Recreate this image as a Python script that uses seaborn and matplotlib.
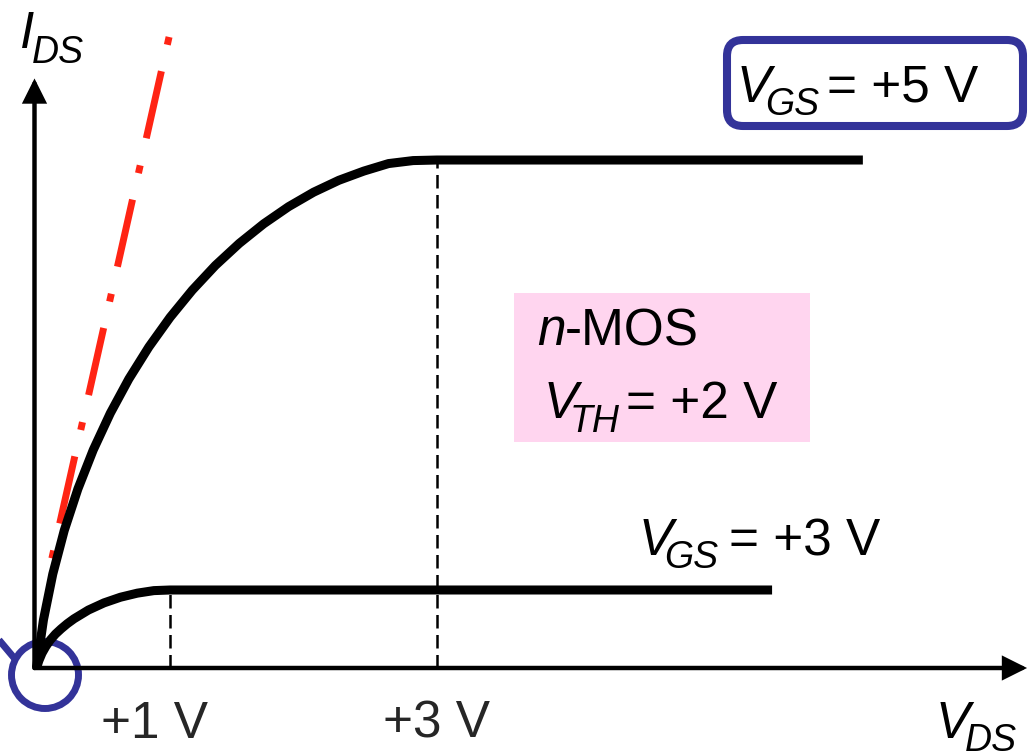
import numpy as np
import pandas as pd
import seaborn as sns
import matplotlib
matplotlib.use("Agg")
import matplotlib.pyplot as plt
from matplotlib.patches import Circle, FancyBboxPatch, FancyArrowPatch

# Drain characteristics of an n-MOS transistor (V_TH = +2 V), arbitrary current units
vds_gs5 = [0.0, 0.052, 0.122, 0.208, 0.310, 0.425, 0.553, 0.692, 0.842, 1.001, 1.167,
           1.340, 1.519, 1.702, 1.888, 2.076, 2.265, 2.452, 2.637, 2.821, 3.0, 6.19]
ids_gs5 = [0.0, 0.852, 1.665, 2.438, 3.172, 3.863, 4.514, 5.122, 5.689, 6.214, 6.694,
           7.132, 7.523, 7.870, 8.173, 8.430, 8.641, 8.804, 8.937, 8.990, 9.0, 9.0]

vds_gs3 = [0.0, 0.018, 0.041, 0.070, 0.103, 0.142, 0.184, 0.231, 0.281, 0.389, 0.506,
           0.629, 0.755, 0.879, 1.0, 5.51]
ids_gs3 = [0.0, 0.131, 0.261, 0.382, 0.495, 0.601, 0.693, 0.786, 0.872, 1.027, 1.154,
           1.254, 1.326, 1.371, 1.382, 1.382]

# saturation onset (V_DS,sat = V_GS - V_TH) for each curve
vds_sat = [1.0, 3.0]
ids_sat = [1.382, 9.0]

# steep reference line near the origin
ref_vds = [0.993, 0.104]
ref_ids = [11.18, 1.825]

tick_labels = ["+1 V", "+3 V"]

BLUE = "#333399"
RED = "#FF2414"
PINK = "#FFD5EF"

sns.set_theme(style="white")
plt.rcParams["font.family"] = ["Liberation Sans", "DejaVu Sans"]

W, H = 1028, 754
fig = plt.figure(figsize=(W / 100, H / 100), dpi=100)
ax = fig.add_axes([0, 0, 1, 1])
ax.set_xlim(-0.2734, 7.427)
ax.set_ylim(-1.5237, 11.835)
ax.axis("off")

# pixel-space layer for annotations
ov = fig.add_axes([0, 0, 1, 1])
ov.set_xlim(0, W)
ov.set_ylim(H, 0)
ov.axis("off")
ov.patch.set_alpha(0)

curves = pd.concat([
    pd.DataFrame({"vds": vds_gs5, "ids": ids_gs5, "vgs": "+5 V"}),
    pd.DataFrame({"vds": vds_gs3, "ids": ids_gs3, "vgs": "+3 V"}),
])

# red dash-dot line
sns.lineplot(x=ref_vds, y=ref_ids, ax=ax, color=RED, lw=5, sort=False,
             estimator=None, zorder=2, legend=False)
ax.lines[-1].set_dashes([1.15, 3.9, 9.9, 4.0])
ax.lines[-1].set_dash_capstyle("butt")

# dashed markers at the saturation onset
for v, i in zip(vds_sat, ids_sat):
    ax.plot([v, v], [0, i], color="black", lw=1.8, ls=(0, (5.4, 2.6)), zorder=2)

# blue circle around the origin, drawn below the curves
ax.add_patch(Circle((45, 675), 33.5, transform=ov.transData, fill=False,
                    ec=BLUE, lw=5, zorder=1))
ax.plot([-6, 15], [634, 659], transform=ov.transData, color=BLUE, lw=5,
        solid_capstyle="butt", zorder=1)

# axes with arrow heads
for start, end in [((-0.015, 0.0), (7.42, 0.0)), ((-0.015, 0.0), (-0.015, 10.445))]:
    ax.add_patch(FancyArrowPatch(start, end, arrowstyle="-|>,head_length=1.0,head_width=0.5",
                                 mutation_scale=13, lw=3.2, color="black",
                                 shrinkA=0, shrinkB=0, joinstyle="miter", zorder=3))

sns.lineplot(data=curves, x="vds", y="ids", units="vgs", estimator=None, sort=False,
             ax=ax, color="black", lw=6.5, legend=False, zorder=4)
for ln in ax.lines[-2:]:
    ln.set_solid_capstyle("butt")
    ln.set_solid_joinstyle("round")

# pink label box
ov.add_patch(plt.Rectangle((514, 293), 296, 149, color=PINK, lw=0, zorder=0))
# rounded blue frame
ov.add_patch(FancyBboxPatch((727, 40), 296, 86, boxstyle="round,pad=0,rounding_size=16",
                            fill=False, ec=BLUE, lw=5.8, zorder=3))

BIG, SUB = 37, 27


def txt(x, y, s, size=BIG, italic=False):
    ov.text(x, y, s, fontsize=size, style="italic" if italic else "normal",
            ha="left", va="baseline", color="black")


txt(20, 48, "I", italic=True)
txt(32, 63, "DS", SUB, italic=True)

txt(737, 102, "V", italic=True)
txt(765, 115, "GS", SUB, italic=True)
txt(827, 102, "= +5 V")

txt(537, 345, "n", italic=True)
txt(565, 345, "-MOS")
txt(544, 418, "V", italic=True)
txt(570, 432, "TH", SUB, italic=True)
txt(626, 418, "= +2 V")

txt(639, 555, "V", italic=True)
txt(664, 568, "GS", SUB, italic=True)
txt(729, 555, "= +3 V")

# tick labels below the V_DS axis, shifted (px) from their tick positions
label_dx = [-15, 0]
for v, lab, dx in zip(vds_sat, tick_labels, label_dx):
    x_px = ov.transData.inverted().transform(ax.transData.transform((v, 0)))[0]
    ov.text(x_px + dx, 738, lab, fontsize=BIG, ha="center", va="baseline")

txt(936, 738, "V", italic=True)
txt(965, 751, "DS", SUB, italic=True)

fig.savefig("out.png", dpi=100)
